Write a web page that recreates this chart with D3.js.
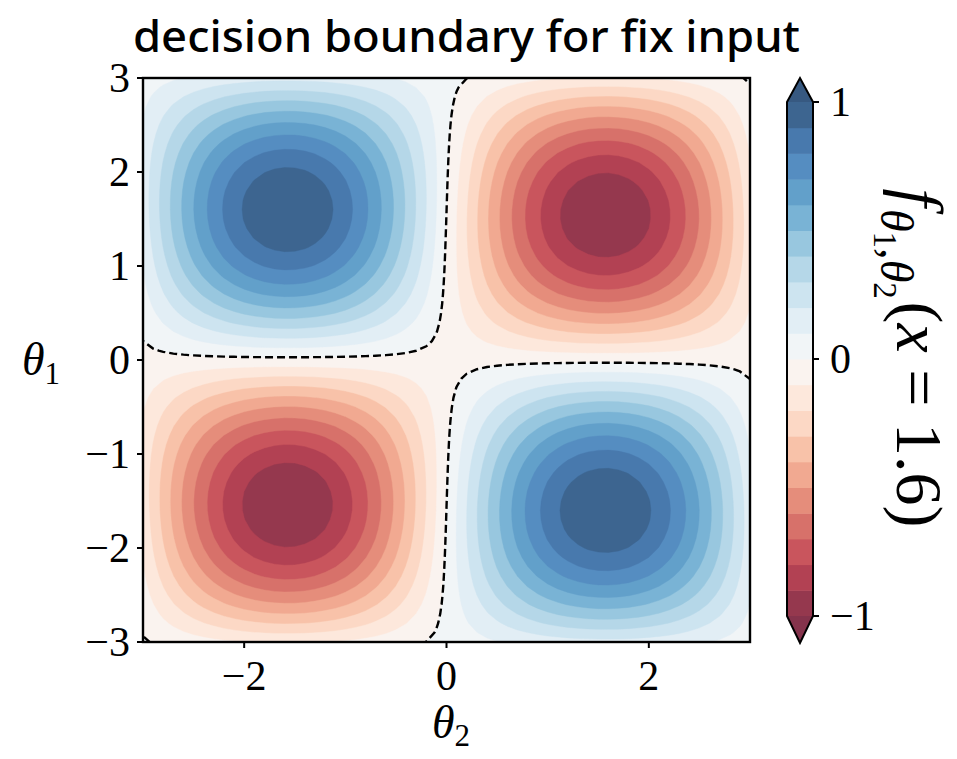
<!DOCTYPE html>
<html><head><meta charset="utf-8">
<script src="https://cdn.jsdelivr.net/npm/d3@7"></script>
<style>body{margin:0;background:#fff}svg{display:block}</style>
</head><body>
<svg id="chart" width="957" height="759"></svg>
<script>
// ---- data ----
const thetaSamples = [-3.0,-2.9,-2.8,-2.7,-2.6,-2.5,-2.4,-2.3,-2.2,-2.1,-2.0,-1.9,-1.8,-1.7,-1.6,-1.5,-1.4,-1.3,-1.2,-1.1,-1.0,-0.9,-0.8,-0.7,-0.6,-0.5,-0.4,-0.3,-0.2,-0.1,0,0.1,0.2,0.3,0.4,0.5,0.6,0.7,0.8,0.9,1.0,1.1,1.2,1.3,1.4,1.5,1.6,1.7,1.8,1.9,2.0,2.1,2.2,2.3,2.4,2.5,2.6,2.7,2.8,2.9,3.0];
// profile of the lobes along each angle axis
const lobeProfile = [-0.1411,-0.2392,-0.3350,-0.4274,-0.5155,-0.5985,-0.6755,-0.7457,-0.8085,-0.8632,
 -0.9093,-0.9463,-0.9738,-0.9917,-0.9996,-0.9975,-0.9854,-0.9636,-0.9320,-0.8912,
 -0.8415,-0.7833,-0.7174,-0.6442,-0.5646,-0.4794,-0.3894,-0.2955,-0.1987,-0.0998,
 0,
 0.0998,0.1987,0.2955,0.3894,0.4794,0.5646,0.6442,0.7174,0.7833,0.8415,
 0.8912,0.9320,0.9636,0.9854,0.9975,0.9996,0.9917,0.9738,0.9463,0.9093,
 0.8632,0.8085,0.7457,0.6755,0.5985,0.5155,0.4274,0.3350,0.2392,0.1411];
// small offset profile along theta_1 (shifts the zero boundary)
const offsetProfile = [-0.9900,-0.9710,-0.9422,-0.9041,-0.8569,-0.8011,-0.7374,-0.6663,-0.5885,-0.5048,
 -0.4161,-0.3233,-0.2272,-0.1288,-0.0292,0.0707,0.1700,0.2675,0.3624,0.4536,
 0.5403,0.6216,0.6967,0.7648,0.8253,0.8776,0.9211,0.9553,0.9801,0.9950,
 1,
 0.9950,0.9801,0.9553,0.9211,0.8776,0.8253,0.7648,0.6967,0.6216,0.5403,
 0.4536,0.3624,0.2675,0.1700,0.0707,-0.0292,-0.1288,-0.2272,-0.3233,-0.4161,
 -0.5048,-0.5885,-0.6663,-0.7374,-0.8011,-0.8569,-0.9041,-0.9422,-0.9710,-0.9900];
const offsetWeight = -0.0292;   // weight of offset profile (input x = 1.6)
const lobeWeight = 0.9996;      // weight of lobe product
const levels = [-1,-0.9,-0.8,-0.7,-0.6,-0.5,-0.4,-0.3,-0.2,-0.1,0,0.1,0.2,0.3,0.4,0.5,0.6,0.7,0.8,0.9,1];
const xTicks = [-2,0,2];
const yTicks = [-3,-2,-1,0,1,2,3];
const cbarTicks = [-1,0,1];
const titleText = "decision boundary for fix input";

// ---- colormap (matplotlib RdBu) ----
const rdbu = ["#67001f","#b2182b","#d6604d","#f4a582","#fddbc7","#f7f7f7","#d1e5f0","#92c5de","#4393c3","#2166ac","#053061"];
const cmapScale = d3.scaleLinear().domain(d3.range(11).map(i=>i/10)).range(rdbu).interpolate(d3.interpolateRgb).clamp(true);
const ALPHA = 0.8;
function cmap(t){ return d3.interpolateRgb("#ffffff", cmapScale(t))(ALPHA); }
const norm = d3.scaleLinear().domain([-1,1]).range([0,1]);

// ---- layout ----
const svg = d3.select("#chart");
const L=143, R=750, T=78, B=642;
const x = d3.scaleLinear().domain([-3,3]).range([L,R]);
const y = d3.scaleLinear().domain([-3,3]).range([B,T]);

// field grid: rows = theta_1, columns = theta_2
const n = thetaSamples.length;
const values = new Array(n*n);
for (let j=0;j<n;j++) for (let i=0;i<n;i++)
  values[j*n+i] = offsetWeight*offsetProfile[j] - lobeWeight*lobeProfile[j]*lobeProfile[i];

const idx = d3.scaleLinear().domain([0.5, n-0.5]).range([thetaSamples[0], thetaSamples[n-1]]);
const proj = d3.geoTransform({point(px,py){ this.stream.point(x(idx(px)), y(idx(py))); }});
const path = d3.geoPath(proj);

svg.append("defs").append("clipPath").attr("id","clip")
  .append("rect").attr("x",L).attr("y",T).attr("width",R-L).attr("height",B-T);

const gPlot = svg.append("g").attr("clip-path","url(#clip)");
gPlot.append("rect").attr("x",L).attr("y",T).attr("width",R-L).attr("height",B-T).attr("fill",cmap(0));
const bandColor = k => cmap(norm((levels[k]+levels[k+1])/2));
const contours = d3.contours().size([n,n]).thresholds(levels)(values);
contours.forEach(c=>{
  const k = levels.findIndex(v=>Math.abs(v-c.value)<1e-9);
  const fill = k < levels.length-1 ? bandColor(k) : cmap(1);
  gPlot.append("path").attr("d",path(c)).attr("fill",fill).attr("stroke",fill).attr("stroke-width",0.4);
});
// decision boundary (zero level)
const zero = d3.contours().size([n,n]).thresholds([0])(values)[0];
gPlot.append("path").attr("d",path(zero)).attr("fill","none").attr("stroke","#000")
  .attr("stroke-width",2.4).attr("stroke-dasharray","8,4");

// frame
svg.append("rect").attr("x",L).attr("y",T).attr("width",R-L).attr("height",B-T)
  .attr("fill","none").attr("stroke","#000").attr("stroke-width",2.4);

const tickFont = "'Liberation Serif', serif";
const fmt = v => v<0 ? "\u2212"+Math.abs(v) : String(v);
yTicks.forEach(v=>{
  svg.append("line").attr("x1",L-6).attr("x2",L).attr("y1",y(v)).attr("y2",y(v)).attr("stroke","#000").attr("stroke-width",2);
  svg.append("text").attr("x",L-13).attr("y",y(v)).attr("dy","0.34em").attr("text-anchor","end")
    .attr("font-family",tickFont).attr("font-size",42).text(fmt(v));
});
xTicks.forEach(v=>{
  svg.append("line").attr("x1",x(v)).attr("x2",x(v)).attr("y1",B).attr("y2",B+6).attr("stroke","#000").attr("stroke-width",2);
  svg.append("text").attr("x",x(v)).attr("y",690).attr("text-anchor","middle")
    .attr("font-family",tickFont).attr("font-size",42).text(fmt(v));
});

// axis labels
const yl = svg.append("text").attr("x",22).attr("y",375).attr("font-family",tickFont).attr("font-size",46);
yl.append("tspan").attr("font-style","italic").text("θ");
yl.append("tspan").attr("font-size",31).attr("dy",9).text("1");
const xl = svg.append("text").attr("x",432).attr("y",738).attr("font-family",tickFont).attr("font-size",46);
xl.append("tspan").attr("font-style","italic").text("θ");
xl.append("tspan").attr("font-size",31).attr("dy",8).text("2");

// colorbar
const cbL=787, cbR=813, cbT=102, cbB=616, tipT=78, tipB=643;
const cy = d3.scaleLinear().domain([-1,1]).range([cbB,cbT]);
for (let k=0;k<levels.length-1;k++){
  svg.append("rect").attr("x",cbL).attr("width",cbR-cbL)
    .attr("y",cy(levels[k+1])).attr("height",cy(levels[k])-cy(levels[k+1])+0.5)
    .attr("fill",bandColor(k));
}
svg.append("path").attr("d",`M${cbL},${cbT}L${(cbL+cbR)/2},${tipT}L${cbR},${cbT}Z`).attr("fill",cmap(1));
svg.append("path").attr("d",`M${cbL},${cbB}L${(cbL+cbR)/2},${tipB}L${cbR},${cbB}Z`).attr("fill",cmap(0));
svg.append("path").attr("d",`M${cbL},${cbB}L${cbL},${cbT}L${(cbL+cbR)/2},${tipT}L${cbR},${cbT}L${cbR},${cbB}L${(cbL+cbR)/2},${tipB}Z`)
  .attr("fill","none").attr("stroke","#000").attr("stroke-width",2).attr("stroke-linejoin","miter");
cbarTicks.forEach(v=>{
  svg.append("line").attr("x1",cbR).attr("x2",cbR+6).attr("y1",cy(v)).attr("y2",cy(v)).attr("stroke","#000").attr("stroke-width",2);
  svg.append("text").attr("x",cbR+17).attr("y",cy(v)).attr("dy","0.34em")
    .attr("font-family",tickFont).attr("font-size",42).text(fmt(v));
});

// colorbar label (rotated)
const S=66;
const cl = svg.append("text").attr("transform","translate(897,358) rotate(90)")
  .attr("text-anchor","middle").attr("font-family",tickFont).attr("font-size",S);
cl.append("tspan").attr("font-style","italic").text("f");
cl.append("tspan").attr("font-style","italic").attr("font-size",S*0.7).attr("dy",S*0.25).attr("dx",S*0.03).text("θ");
cl.append("tspan").attr("font-size",S*0.5).attr("dy",S*0.1).text("1");
cl.append("tspan").attr("font-size",S*0.7).attr("dy",-S*0.1).text(",");
cl.append("tspan").attr("font-style","italic").attr("font-size",S*0.7).text("θ");
cl.append("tspan").attr("font-size",S*0.5).attr("dy",S*0.1).text("2");
cl.append("tspan").attr("dy",-S*0.35).attr("dx",S*0.04).text("(");
cl.append("tspan").attr("font-style","italic").text("x");
cl.append("tspan").text(" = 1.6)");

// title
svg.append("text").attr("x",133).attr("y",52).attr("font-family","'Noto Sans', sans-serif").attr("font-weight",500)
  .attr("font-size",44).attr("textLength",667).attr("lengthAdjust","spacingAndGlyphs").text(titleText);
</script>
</body></html>
